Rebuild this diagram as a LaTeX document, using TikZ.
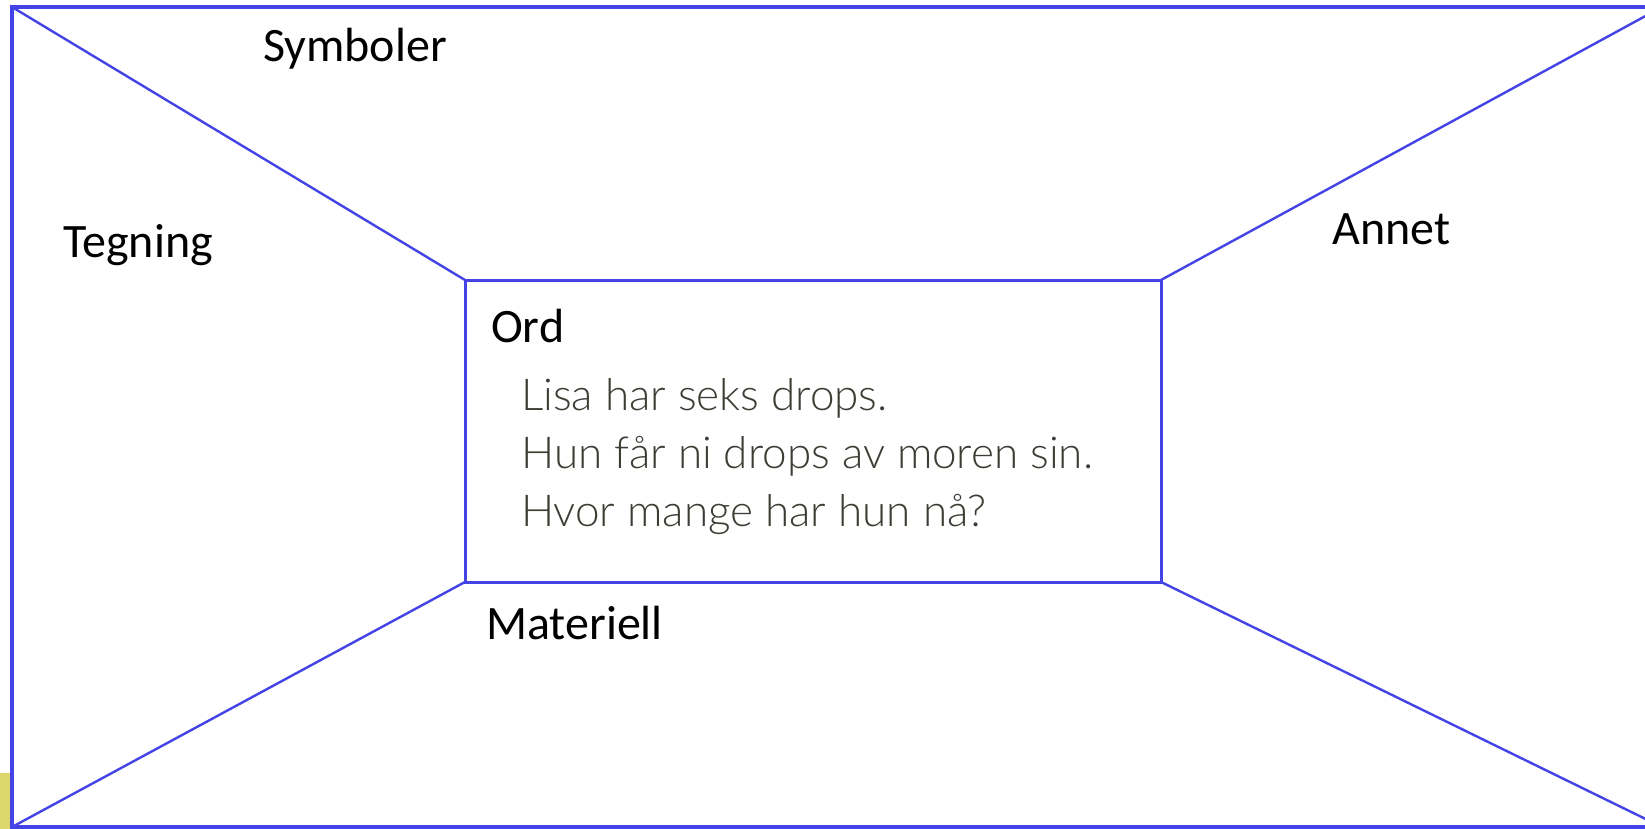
\documentclass[tikz,border=0pt]{standalone}
\usepackage{fontspec}
\setmainfont{Carlito}
\newfontfamily\bodyfont{Lato Light}
\definecolor{framecol}{HTML}{4343E6}
\definecolor{bodycol}{HTML}{3D3D35}
\definecolor{tabcol}{HTML}{DDD66A}
\begin{document}
\begin{tikzpicture}[x=1pt,y=-1pt,
  lbl/.style={anchor=base west,inner sep=0pt,font=\fontsize{48}{48}\selectfont},
  bodyline/.style={anchor=base west,inner sep=0pt,text=bodycol,font=\bodyfont\fontsize{44}{44}\selectfont},
  outerline/.style={draw=framecol,line width=3.5pt},
  innerline/.style={draw=framecol,line width=3pt},
  diagline/.style={draw=framecol,line width=2.4pt}]
\useasboundingbox (0,0) rectangle (1645,829);
\clip (0,0) rectangle (1645,829);
\fill[tabcol] (0,773) rectangle (11,829);
\coordinate (otl) at (12,7);
\coordinate (otr) at (1662,7);
\coordinate (obl) at (12,827);
\coordinate (obr) at (1662,827);
\coordinate (itl) at (465,280);
\coordinate (itr) at (1161,280);
\coordinate (ibl) at (465,582);
\coordinate (ibr) at (1161,582);
\draw[diagline] (otl) -- (itl);
\draw[diagline] (otr) -- (itr);
\draw[diagline] (obl) -- (ibl);
\draw[diagline] (obr) -- (ibr);
\draw[outerline] (otl) rectangle (obr);
\draw[innerline] (itl) rectangle (ibr);
\node[lbl] (symb) at (263,62) {Symboler};
\node[lbl] (tegn) at (63,257) {Tegning};
\node[lbl] (annet) at (1332,244) {Annet};
\node[lbl] (ord) at (491,342) {Ord};
\node[lbl] (mat) at (486,639) {Materiell};
\node[bodyline] (l1) at (521,410) {Lisa har seks drops.};
\node[bodyline] (l2) at (521,468) {Hun får ni drops av moren sin.};
\node[bodyline] (l3) at (521,526) {Hvor mange har hun nå?};
\end{tikzpicture}
\end{document}
